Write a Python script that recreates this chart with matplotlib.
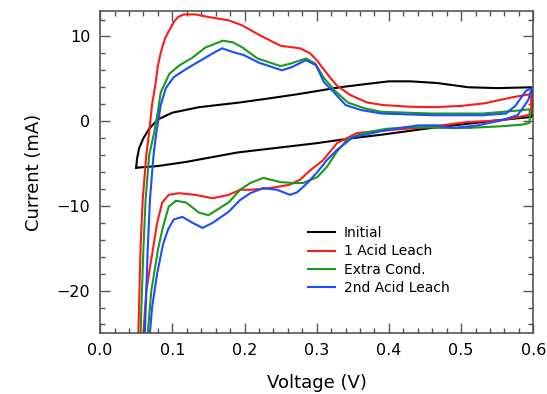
import matplotlib
matplotlib.use("Agg")
import matplotlib.pyplot as plt
from matplotlib.ticker import MultipleLocator

# cyclic voltammograms, each loop = forward sweep then reverse sweep
init_v = [0.050, 0.051, 0.054, 0.060, 0.068, 0.080, 0.100, 0.137, 0.193, 0.235, 0.275, 0.332, 0.370,
          0.400, 0.430, 0.467, 0.510, 0.550, 0.598,
          0.598, 0.55, 0.50, 0.45, 0.39, 0.35, 0.30, 0.25, 0.19, 0.12, 0.08, 0.050]
init_i = [-5.5, -4.5, -3.2, -2.0, -0.9, 0.2, 1.0, 1.65, 2.2, 2.7, 3.2, 4.0, 4.4,
          4.7, 4.7, 4.5, 4.0, 3.9, 4.0,
          0.5, 0.1, -0.4, -0.9, -1.6, -2.0, -2.6, -3.1, -3.7, -4.8, -5.3, -5.5]

acid1_v = [0.052, 0.053, 0.056, 0.059, 0.064, 0.068, 0.072, 0.076, 0.080, 0.084, 0.090, 0.095, 0.102,
           0.108, 0.116, 0.132, 0.150, 0.178, 0.197, 0.222, 0.250, 0.277, 0.291, 0.300, 0.309, 0.318,
           0.328, 0.346, 0.370, 0.392, 0.430, 0.463, 0.500, 0.532, 0.570, 0.590, 0.597,
           0.597, 0.592, 0.556, 0.509, 0.454, 0.394, 0.356, 0.328, 0.309, 0.291, 0.277, 0.263, 0.236,
           0.208, 0.194, 0.178, 0.156, 0.132, 0.109, 0.095, 0.086, 0.079, 0.073, 0.064, 0.060, 0.059]
acid1_i = [-27, -25, -15, -9.3, -4.0, -1.3, 2.0, 4.0, 6.5, 8.1, 9.8, 10.6, 11.7,
           12.3, 12.6, 12.6, 12.3, 11.9, 11.3, 10.1, 8.9, 8.6, 8.0, 7.2, 6.2, 5.2,
           4.2, 3.1, 2.2, 1.9, 1.7, 1.65, 1.8, 2.1, 2.8, 3.1, 3.2,
           0.9, 0.7, 0.1, -0.1, -0.7, -1.1, -1.4, -2.6, -4.6, -5.8, -6.9, -7.5, -7.9,
           -8.1, -8.1, -8.7, -9.1, -8.7, -8.5, -8.7, -9.6, -12.0, -15.2, -20, -25, -27]

extra_v = [0.055, 0.056, 0.060, 0.063, 0.068, 0.075, 0.080, 0.084, 0.096, 0.110, 0.128, 0.146, 0.170,
           0.184, 0.197, 0.218, 0.250, 0.264, 0.285, 0.298, 0.310, 0.325, 0.343, 0.367, 0.390, 0.460,
           0.530, 0.585, 0.595,
           0.595, 0.585, 0.556, 0.509, 0.480, 0.430, 0.397, 0.364, 0.342, 0.328, 0.314, 0.301, 0.281,
           0.268, 0.250, 0.226, 0.208, 0.194, 0.178, 0.150, 0.137, 0.119, 0.105, 0.095, 0.087, 0.080,
           0.071, 0.066, 0.065]
extra_i = [-27, -25, -15, -9.3, -4.0, -1.3, 1.1, 3.4, 5.6, 6.6, 7.5, 8.7, 9.5,
           9.3, 8.7, 7.4, 6.5, 6.8, 7.4, 6.8, 5.1, 3.6, 2.2, 1.5, 1.1, 0.9,
           0.9, 1.3, 1.4,
           -0.2, -0.4, -0.6, -0.8, -0.8, -0.7, -0.9, -1.4, -2.2, -3.6, -5.4, -6.6, -7.3,
           -7.3, -7.2, -6.7, -7.3, -8.1, -9.6, -11.1, -10.8, -9.6, -9.4, -10.1, -12.5, -15.2,
           -20, -25, -27]

acid2_v = [0.061, 0.062, 0.066, 0.069, 0.074, 0.078, 0.084, 0.091, 0.102, 0.120, 0.140, 0.158, 0.169,
           0.186, 0.199, 0.220, 0.252, 0.266, 0.285, 0.299, 0.310, 0.325, 0.340, 0.362, 0.390, 0.460,
           0.530, 0.562, 0.575, 0.590, 0.598,
           0.593, 0.585, 0.578, 0.556, 0.523, 0.491, 0.481, 0.468, 0.440, 0.394, 0.350, 0.328, 0.314,
           0.301, 0.287, 0.273, 0.263, 0.245, 0.226, 0.208, 0.194, 0.178, 0.156, 0.142, 0.128, 0.114,
           0.102, 0.094, 0.087, 0.079, 0.072, 0.069, 0.068]
acid2_i = [-27, -25, -15, -9.3, -4.0, -1.3, 1.9, 3.9, 5.2, 6.2, 7.2, 8.1, 8.6,
           8.1, 7.8, 6.9, 6.0, 6.4, 7.2, 6.6, 4.6, 3.3, 1.9, 1.3, 0.9, 0.7,
           0.7, 0.9, 1.8, 3.6, 3.9,
           2.5, 1.5, 0.7, 0.1, -0.5, -0.8, -0.7, -0.5, -0.5, -1.1, -1.9, -3.4, -4.6,
           -6.0, -7.3, -8.4, -8.7, -8.1, -7.9, -8.5, -9.3, -10.7, -12.0, -12.6, -12.0, -11.3,
           -11.6, -12.8, -14.6, -18, -22, -25, -27]

labels = ["Initial", "1 Acid Leach", "Extra Cond.", "2nd Acid Leach"]
colors = ["black", "#ff1a1a", "#1a9a1a", "#1a4dff"]

fig = plt.figure(figsize=(5.47, 3.94), dpi=100)
ax = fig.add_axes([0.183, 0.155, 0.792, 0.817])

for v, i, lab, c in zip([init_v, acid1_v, extra_v, acid2_v],
                        [init_i, acid1_i, extra_i, acid2_i], labels, colors):
    ax.plot(v, i, color=c, lw=1.5, label=lab)

ax.set_xlim(0, 0.6)
ax.set_ylim(-25, 13)
ax.xaxis.set_major_locator(MultipleLocator(0.1))
ax.xaxis.set_minor_locator(MultipleLocator(0.02))
ax.yaxis.set_major_locator(MultipleLocator(10))
ax.yaxis.set_minor_locator(MultipleLocator(2))
ax.xaxis.set_major_formatter(plt.FormatStrFormatter("%.1f"))

for s in ax.spines.values():
    s.set_color("#555555")
    s.set_linewidth(1.2)
ax.tick_params(which="both", direction="in", top=True, right=True, color="#555555", width=1.0,
               labelsize=11.5, pad=7)
ax.tick_params(which="major", length=7)
ax.tick_params(which="minor", length=3.5)

ax.set_xlabel("Voltage (V)", fontsize=13, labelpad=12)
ax.set_ylabel("Current (mA)", fontsize=13, labelpad=10)

ax.legend(loc="upper left", bbox_to_anchor=(0.45, 0.37), frameon=False, fontsize=10,
          handlelength=2.0, handletextpad=0.6, labelspacing=0.3)

fig.savefig("out.png", dpi=100)
